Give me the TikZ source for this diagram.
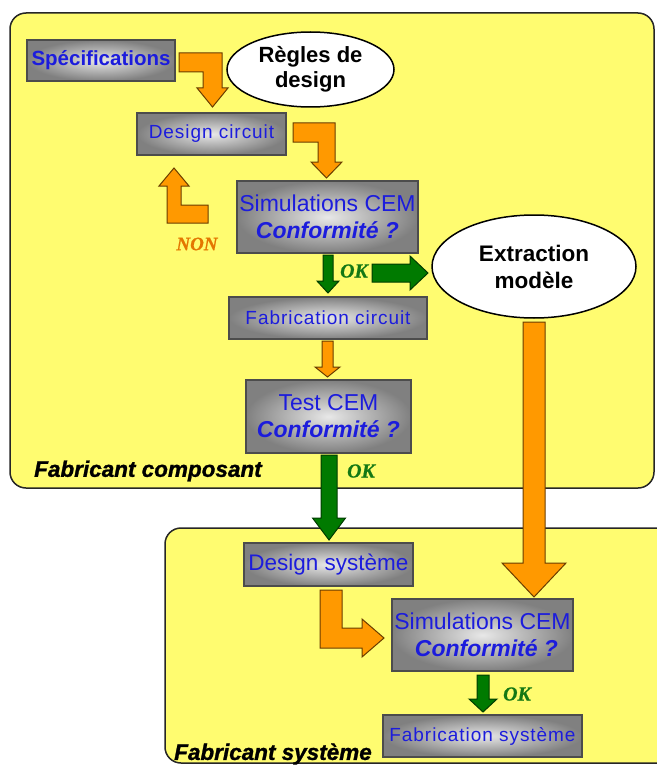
\documentclass[tikz,border=0pt]{standalone}
\usepackage{fontspec}
\setmainfont{Liberation Sans}
\newfontfamily\spacedfont[LetterSpace=5]{Liberation Sans}
\newfontfamily\heavyfont[FakeBold=1.2]{Liberation Sans}
\newfontfamily\timesfont[FakeBold=0.6]{Liberation Serif}
\usetikzlibrary{shapes.geometric}

\definecolor{panelyellow}{RGB}{255,252,112}
\definecolor{boxblue}{RGB}{28,28,220}
\definecolor{arrorange}{RGB}{255,153,0}
\definecolor{arrorangedark}{RGB}{105,60,0}
\definecolor{arrgreen}{RGB}{0,122,0}
\definecolor{arrgreendark}{RGB}{0,60,0}
\definecolor{nonorange}{RGB}{228,118,0}
\definecolor{okgreen}{RGB}{20,120,20}
\definecolor{boxin}{RGB}{232,232,232}
\definecolor{boxout}{RGB}{128,128,128}

\begin{document}
\begin{tikzpicture}[x=1pt,y=-1pt,
  panel/.style={draw=black!85, line width=1.5pt, fill=panelyellow, rounded corners=16pt},
  gbox/.style n args={2}{draw=black!70, line width=1.2pt, shading=radial,
    inner color=boxin, outer color=boxout, minimum width=#1, minimum height=#2,
    inner sep=0pt, text=boxblue, align=center},
  ell/.style n args={2}{ellipse, draw=black, line width=1.5pt, fill=white,
    minimum width=#1, minimum height=#2, inner sep=0pt, align=center},
  oarrow/.style={fill=arrorange, draw=arrorangedark, line width=1pt, line join=miter},
  garrow/.style={fill=arrgreen, draw=arrgreendark, line width=1pt, line join=miter},
  oktext/.style={font=\timesfont\fontsize{20}{22}\selectfont\bfseries\itshape, text=okgreen, inner sep=0pt},
  paneltext/.style={font=\heavyfont\fontsize{22.5}{26}\selectfont\bfseries\itshape, text=black, anchor=west, inner sep=0pt}
]
% background and bounding box
\fill[white] (0,0) rectangle (656,765);
\useasboundingbox (0,0) rectangle (656,765);

% panels
\draw[panel] (10,13) rectangle (654,488);
\draw[panel] (165,528) rectangle (700,763);

% block arrows
% Specifications -> Design circuit
\draw[oarrow] (179,53) -- (222,53) -- (222,88) -- (228,88) -- (212.5,107) -- (197,88) -- (203,88) -- (203,72) -- (179,72) -- cycle;
% Design circuit -> Simulations CEM
\draw[oarrow] (293,123) -- (335,123) -- (335,162) -- (342,162) -- (326.5,178) -- (311,162) -- (318,162) -- (318,142) -- (293,142) -- cycle;
% NON loop back
\draw[oarrow] (208,205) -- (208,223) -- (167,223) -- (167,186) -- (159,186) -- (174,168) -- (189,186) -- (181,186) -- (181,205) -- cycle;
% Simulations -> Fabrication circuit (green)
\draw[garrow] (323,255) -- (333,255) -- (333,281) -- (339,281) -- (328,293) -- (317,281) -- (323,281) -- cycle;
% Simulations -> Extraction modele (green)
\draw[garrow] (372,264) -- (410,264) -- (410,256) -- (428,273) -- (410,290) -- (410,282) -- (372,282) -- cycle;
% Fabrication circuit -> Test CEM
\draw[oarrow] (322,341) -- (333,341) -- (333,367) -- (340,367) -- (327.5,377) -- (315,367) -- (322,367) -- cycle;
% Test CEM -> Design systeme (green)
\draw[garrow] (321,455) -- (337,455) -- (337,518) -- (345.5,518) -- (329,540) -- (312.5,518) -- (321,518) -- cycle;
% Extraction modele -> Simulations CEM (systeme)
\draw[oarrow] (523,322) -- (545,322) -- (545,563) -- (566,563) -- (534,597) -- (502,563) -- (523,563) -- cycle;
% Design systeme -> Simulations CEM (systeme)
\draw[oarrow] (320,590) -- (342,590) -- (342,628) -- (362,628) -- (362,619) -- (384,638) -- (362,657) -- (362,648) -- (320,648) -- cycle;
% Simulations (systeme) -> Fabrication systeme (green)
\draw[garrow] (477,675) -- (489,675) -- (489,699) -- (497,699) -- (483,712) -- (469,699) -- (477,699) -- cycle;

% boxes
\node[gbox={148}{41}, font=\fontsize{20.5}{24}\selectfont\bfseries] (spec) at (101,60.5) {Spécifications};
\node[gbox={149}{42}, font=\spacedfont\fontsize{19}{22}\selectfont] (design) at (211.5,134) {Design circuit};
\node[gbox={181}{72}, font=\fontsize{23}{27}\selectfont] (sim1) at (327.5,217) {Simulations CEM\\\textbf{\textit{Conformité ?}}};
\node[gbox={198}{42}, font=\spacedfont\fontsize{19}{22}\selectfont] (fab) at (328,318) {Fabrication circuit};
\node[gbox={165}{73}, font=\fontsize{23}{27}\selectfont] (test) at (328.5,416.5) {Test CEM\\\textbf{\textit{Conformité ?}}};
\node[gbox={169}{43}, font=\fontsize{22.5}{26}\selectfont] (dsys) at (328.5,564.5) {Design système};
\node[gbox={181}{72}, font=\fontsize{23}{27}\selectfont] (sim2) at (482.5,635) {Simulations CEM\\\hspace*{8pt}\textbf{\textit{Conformité ?}}};
\node[gbox={199}{42}, font=\spacedfont\fontsize{19}{22}\selectfont] (fsys) at (482.5,736) {Fabrication système};

% ellipses
\node[ell={167}{75}, font=\fontsize{22}{25}\selectfont\bfseries] (regles) at (310.5,69.5) {Règles de\\design};
\node[ell={204}{103}, font=\fontsize{22.5}{27}\selectfont\bfseries] (extr) at (534,266.5) {Extraction\\modèle};

% labels
\node[font=\timesfont\fontsize{19}{22}\selectfont\bfseries\itshape, text=nonorange, inner sep=0pt] (non) at (197,244) {NON};
\node[oktext] (ok1) at (354,271) {OK};
\node[oktext] (ok2) at (361,471) {OK};
\node[oktext] (ok3) at (517,694) {OK};
\node[paneltext] (fcomp) at (34,471) {Fabricant composant};
\node[paneltext] (fsyst) at (174,754) {Fabricant système};
\end{tikzpicture}
\end{document}
